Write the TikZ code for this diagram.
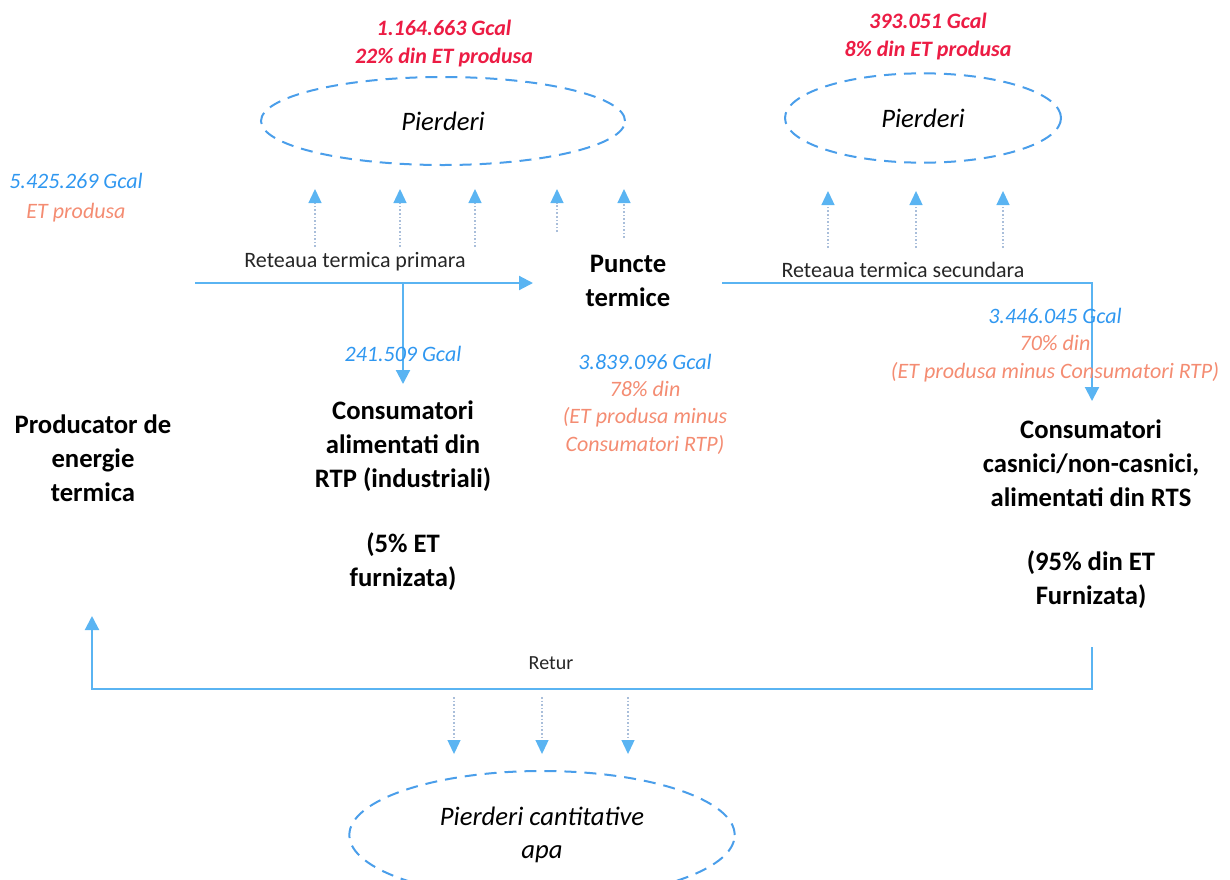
\documentclass[tikz,border=0pt]{standalone}
\usepackage{fontspec}
\setmainfont{Carlito}
\usetikzlibrary{arrows.meta,shapes.geometric}
\definecolor{lineblue}{HTML}{5AB4F2}
\definecolor{dashblue}{HTML}{4A9EEA}
\definecolor{numblue}{HTML}{2F97F0}
\definecolor{salmon}{HTML}{F48C72}
\definecolor{lossred}{HTML}{EC1C44}
\definecolor{dotgray}{HTML}{A9BEDA}
\begin{document}
\begin{tikzpicture}[x=0.75pt,y=-0.75pt,
  flow/.style={draw=lineblue,line width=1.6pt},
  flowtip/.style={flow,-{Triangle[width=10.5pt,length=10.5pt,fill=lineblue,color=lineblue]}},
  leak/.style={draw=dotgray,line width=0.8pt,dash pattern=on 1.2pt off 1.5pt,
    -{Triangle[width=10pt,length=10.5pt,fill=lineblue,color=lineblue,line width=0pt]}},
  loss/.style={ellipse,draw=dashblue,line width=1.5pt,dash pattern=on 9pt off 6pt,
    inner sep=0pt,align=center,font=\fontsize{20}{25}\selectfont\itshape},
  bold/.style={align=center,inner sep=0pt,font=\fontsize{20}{25.5}\selectfont\bfseries},
  netlabel/.style={inner sep=0pt,text=black!85,font=\fontsize{16.5}{19}\selectfont},
  num/.style={inner sep=0pt,align=center,font=\fontsize{16.5}{20.5}\selectfont\itshape},
  rednum/.style={inner sep=0pt,align=center,text=lossred,font=\fontsize{16.5}{21}\selectfont\bfseries\itshape}]
\useasboundingbox (0,0) rectangle (1230,879);
\begin{scope}
\clip (0,0) rectangle (1230,879);

% loss ellipses
\node[loss,minimum width=273pt,minimum height=66pt] (lossP) at (443,121) {Pierderi};
\node[loss,minimum width=207pt,minimum height=67pt] (lossS) at (923,118) {Pierderi};
\node[loss,minimum width=289pt,minimum height=96pt] (lossW) at (542,835) {Pierderi cantitative\\apa};

% red loss figures
\node[rednum] (redP) at (444,44) {1.164.663 Gcal\\22\% din ET produsa};
\node[rednum] (redS) at (928,37) {393.051 Gcal\\8\% din ET produsa};

% main labels
\node[bold] (prod) at (93,458) {Producator de\\energie\\termica};
\node[bold] (puncte) at (628,281) {Puncte\\termice};
\node[bold] (consRTP) at (403,446) {Consumatori\\alimentati din\\RTP (industriali)};
\node[bold] (consRTPp) at (403,562) {(5\% ET\\furnizata)};
\node[bold] (consRTS) at (1091,463) {Consumatori\\casnici/non-casnici,\\alimentati din RTS};
\node[bold] (consRTSp) at (1091,580) {(95\% din ET\\Furnizata)};

% coordinates
\coordinate (pStart) at (195,283);
\coordinate (pEnd) at (533,283);
\coordinate (pBranch) at (403,283);
\coordinate (rtpTip) at (403,384);
\coordinate (sStart) at (722,283);
\coordinate (sCorner) at (1092,283);
\coordinate (rtsTip) at (1092,401);
\coordinate (rStart) at (1092,647);
\coordinate (rCornerR) at (1092,689);
\coordinate (rCornerL) at (92,689);
\coordinate (rTip) at (92,616);

% flows
\draw[flowtip] (pStart) -- (pEnd);
\draw[flowtip] (pBranch) -- (rtpTip);
\draw[flowtip] (sStart) -- (sCorner) -- (rtsTip);
\draw[flowtip] (rStart) -- (rCornerR) -- (rCornerL) -- (rTip);

% network labels
\node[netlabel] (lblP) at (355,262) {Reteaua termica primara};
\node[netlabel] (lblS) at (903,270) {Reteaua termica secundara};
\node[netlabel,font=\fontsize{15}{18}\selectfont] (lblR) at (551,663) {Retur};

% figures
\node[num] (prodNum) at (76,198) {\textcolor{numblue}{5.425.269 Gcal}\\[2pt]\textcolor{salmon}{ET produsa}};
\node[num,text=numblue] (rtpNum) at (403,354) {241.509 Gcal};
\node[num] (punNum) at (645,404) {\textcolor{numblue}{3.839.096 Gcal}\\\textcolor{salmon}{78\% din}\\\textcolor{salmon}{(ET produsa minus}\\\textcolor{salmon}{Consumatori RTP)}};
\node[num] (rtsNum) at (1055,345) {\textcolor{numblue}{3.446.045 Gcal}\\\textcolor{salmon}{70\% din}\\\textcolor{salmon}{(ET produsa minus Consumatori RTP)}};

% leak arrows (primary)
\foreach \x/\t [count=\i] in {315/247,400/247,475/247,557/232,624/238}{
  \coordinate (lp\i) at (\x,\t);
  \coordinate (lpt\i) at (\x,189);
  \draw[leak] (lp\i) -- (lpt\i);
}
% leak arrows (secondary)
\foreach \x [count=\i] in {828,916,1003}{
  \coordinate (ls\i) at (\x,248);
  \coordinate (lst\i) at (\x,191);
  \draw[leak] (ls\i) -- (lst\i);
}
% leak arrows (return)
\foreach \x [count=\i] in {454,542,628}{
  \coordinate (lr\i) at (\x,697);
  \coordinate (lrt\i) at (\x,754);
  \draw[leak] (lr\i) -- (lrt\i);
}
\end{scope}
\end{tikzpicture}
\end{document}
